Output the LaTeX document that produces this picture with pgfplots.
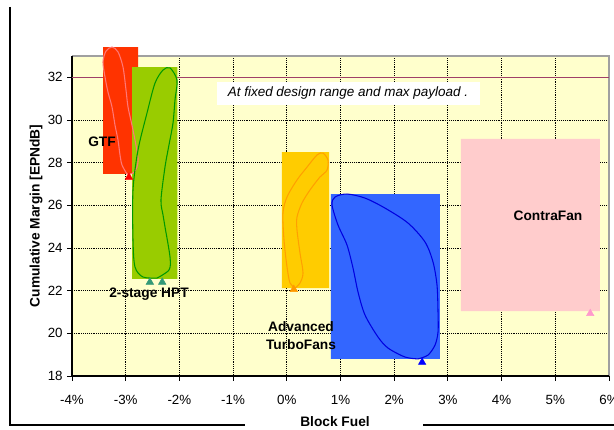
\documentclass[border=0pt]{standalone}
\usepackage{pgfplots}
\pgfplotsset{compat=1.18}
\usepackage{fontspec}
\setmainfont{Liberation Sans}

\definecolor{plotbg}{HTML}{FFFFCC}
\definecolor{gtfbox}{HTML}{FF3300}
\definecolor{gtfline}{HTML}{FF7777}
\definecolor{hptbox}{HTML}{99CC00}
\definecolor{hptline}{HTML}{009900}
\definecolor{hptmark}{HTML}{339977}
\definecolor{atfbox}{HTML}{FFCC00}
\definecolor{atfline}{HTML}{FFA000}
\definecolor{atfmark}{HTML}{FF9900}
\definecolor{tfbox}{HTML}{3366FF}
\definecolor{tfline}{HTML}{0000E0}
\definecolor{cfbox}{HTML}{FFCCCC}
\definecolor{cfmark}{HTML}{FF99CC}
\definecolor{refline}{HTML}{A04068}
\definecolor{frame}{HTML}{A0A0A0}

\begin{document}
\begin{tikzpicture}
\begin{axis}[
  at={(0,0)}, anchor=south west,
  scale only axis, width=402.75pt, height=240pt,
  xmin=-4, xmax=6, ymin=18, ymax=33,
  xtick={-4,...,6},
  xticklabels={-4\%,-3\%,-2\%,-1\%,0\%,1\%,2\%,3\%,4\%,5\%,6\%},
  ytick={18,20,...,32},
  xtick pos=left, ytick pos=left,
  tick align=outside, major tick length=3.5pt,
  tick style={black, line width=0.7pt},
  axis line style={draw=none},
  axis background/.style={fill=plotbg},
  grid=major,
  major grid style={black, densely dotted, line width=0.7pt},
  ticklabel style={font=\fontsize{10}{12}\selectfont},
  xticklabel style={yshift=-7.5pt},
  /pgf/number format/assume math mode=true,
  clip=false,
]
% plot-area frame
\draw[frame, line width=1.5pt] (rel axis cs:0,1) -- (rel axis cs:1,1) -- (rel axis cs:1,0);
\draw[black, line width=0.9pt] (rel axis cs:0,1) -- (rel axis cs:0,0) -- (rel axis cs:1,0);
% 32 EPNdB reference level
\addplot[refline, line width=1.1pt] coordinates {(-4,32) (6,32)};

% design-point markers
\addplot[only marks, mark=triangle*, mark size=3.2pt, color=red] coordinates {(-2.94,27.32)};
\addplot[only marks, mark=triangle*, mark size=3.2pt, color=hptmark] coordinates {(-2.55,22.40) (-2.32,22.40)};
\addplot[only marks, mark=triangle*, mark size=3.2pt, color=atfmark] coordinates {(0.13,22.06)};
\addplot[only marks, mark=triangle*, mark size=3.2pt, color=blue] coordinates {(2.52,18.64)};
\addplot[only marks, mark=triangle*, mark size=3.2pt, color=cfmark] coordinates {(5.65,20.93)};

% technology ranges
\addplot[fill=gtfbox, draw=none] coordinates {(-3.42,27.47) (-2.77,27.47) (-2.77,33.42) (-3.42,33.42) (-3.42,27.47)};
\addplot[fill=hptbox, draw=none] coordinates {(-2.88,22.55) (-2.04,22.55) (-2.04,32.48) (-2.88,32.48) (-2.88,22.55)};
\addplot[fill=atfbox, draw=none] coordinates {(-0.09,22.12) (0.79,22.12) (0.79,28.50) (-0.09,28.50) (-0.09,22.12)};
\addplot[fill=tfbox, draw=none] coordinates {(0.82,18.80) (2.85,18.80) (2.85,26.53) (0.82,26.53) (0.82,18.80)};
\addplot[fill=cfbox, draw=none] coordinates {(3.24,21.04) (5.83,21.04) (5.83,29.11) (3.24,29.11) (3.24,21.04)};

% carpet envelopes
\addplot[gtfline, line width=0.8pt, smooth] coordinates {
 (-2.976,27.47) (-3.069,27.89) (-3.106,28.36) (-3.143,29.06) (-3.199,29.76)
 (-3.255,30.61) (-3.330,31.31) (-3.385,32.01) (-3.423,32.72) (-3.367,33.23)
 (-3.255,33.42) (-3.143,33.19) (-3.050,32.48) (-2.994,31.40) (-2.957,30.61)
 (-2.883,29.76) (-2.827,29.06) (-2.771,28.22) (-2.790,27.79) (-2.864,27.51)
 (-2.976,27.47)};
\addplot[hptline, line width=0.8pt, smooth] coordinates {
 (-2.417,22.59) (-2.678,22.64) (-2.827,23.11) (-2.864,24.37) (-2.864,26.72)
 (-2.771,28.59) (-2.603,30.33) (-2.454,31.73) (-2.305,32.34) (-2.175,32.44)
 (-2.045,31.87) (-2.082,30.94) (-2.119,29.86) (-2.194,28.83) (-2.268,27.80)
 (-2.343,26.25) (-2.305,25.55) (-2.268,24.99) (-2.175,23.58) (-2.194,22.97)
 (-2.417,22.59)};
\addplot[atfline, line width=0.8pt, smooth] coordinates {
 (0.153,22.12) (0.060,22.36) (0.004,23.11) (-0.052,24.37) (-0.071,25.64)
 (0.004,26.39) (0.190,27.19) (0.376,27.79) (0.562,28.36) (0.674,28.45)
 (0.767,28.12) (0.749,27.65) (0.618,27.33) (0.432,26.72) (0.283,26.11)
 (0.190,25.45) (0.190,24.84) (0.246,23.76) (0.302,22.83) (0.246,22.36)
 (0.153,22.12)};
\addplot[tfline, line width=0.8pt, smooth] coordinates {
 (2.443,18.80) (2.201,18.89) (1.885,19.31) (1.698,19.83) (1.456,20.86)
 (1.326,21.94) (1.233,23.06) (1.121,24.14) (0.953,25.08) (0.842,26.02)
 (0.898,26.39) (1.121,26.53) (1.456,26.34) (1.829,25.87) (2.257,25.17)
 (2.574,24.28) (2.723,23.34) (2.797,22.26) (2.816,21.00) (2.816,20.06)
 (2.760,19.45) (2.629,18.98) (2.443,18.80)};
\end{axis}

% chart-area decorations, laid out on a 614 x 429 grid (y downward)
\begin{scope}[x=0.75pt, y=-0.75pt, shift={(-54pt,282pt)}]
  \draw[black, line width=1.5pt] (10,7) -- (10,425) -- (245,425);
  \draw[black, line width=1.5pt] (423,425) -- (614,425);

  \node[font=\fontsize{10.3}{12}\selectfont\bfseries] at (335,422) {Block Fuel};
  \node[font=\fontsize{10.3}{12}\selectfont\bfseries, rotate=90] at (36,216) {Cumulative Margin [EPNdB]};

  \fill[white] (217,82) rectangle (480,105);
  \node[font=\fontsize{10.1}{12}\selectfont\itshape] at (348,93.5) {At fixed design range and max payload .};

  \node[font=\fontsize{10.3}{12}\selectfont\bfseries] at (102,142) {GTF};
  \node[font=\fontsize{10.3}{12}\selectfont\bfseries] at (149,294) {2-stage HPT};
  \node[font=\fontsize{10.3}{13.5}\selectfont\bfseries, align=center] at (301,336) {Advanced\\TurboFans};
  \node[font=\fontsize{10.3}{12}\selectfont\bfseries] at (548,216) {ContraFan};

  \pgfresetboundingbox
  \useasboundingbox (0,0) rectangle (614,429);
\end{scope}
\end{tikzpicture}
\end{document}
